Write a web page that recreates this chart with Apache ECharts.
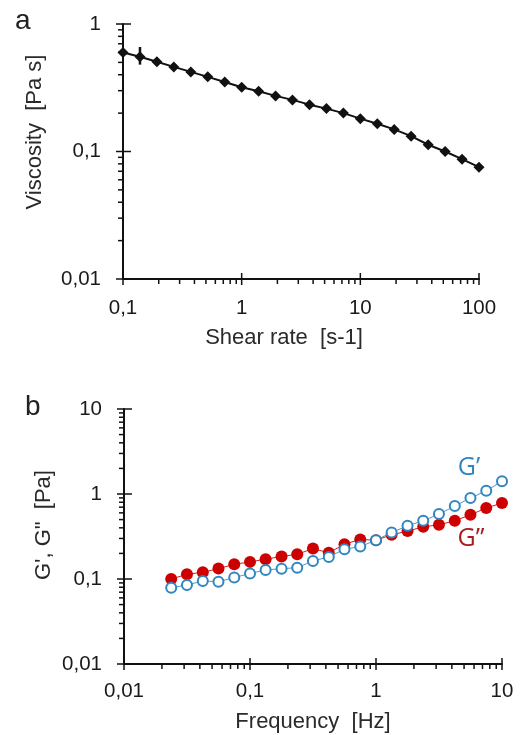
<!DOCTYPE html>
<html>
<head>
<meta charset="utf-8">
<script src="https://cdn.jsdelivr.net/npm/echarts@6/dist/echarts.min.js"></script>
<style>
html,body{margin:0;padding:0;background:#fff;}
#chart{width:524px;height:735px;}
</style>
</head>
<body>
<div id="chart"></div>
<script>
// ---- Panel a: viscosity vs shear rate ----
var shearRate = [0.1, 0.139, 0.193, 0.268, 0.373, 0.518, 0.720, 1, 1.39, 1.93, 2.68, 3.73, 5.18, 7.20, 10, 13.9, 19.3, 26.8, 37.3, 51.8, 72.0, 100];
var viscosity = [0.598, 0.553, 0.505, 0.461, 0.421, 0.385, 0.351, 0.319, 0.297, 0.273, 0.254, 0.233, 0.217, 0.200, 0.181, 0.165, 0.149, 0.132, 0.113, 0.100, 0.087, 0.0753];
var errorBarsA = [[0.139, 0.48, 0.66]]; // [x, low, high]

// ---- Panel b: G', G'' vs frequency ----
var frequency = [0.0237, 0.0316, 0.0422, 0.0562, 0.075, 0.1, 0.133, 0.178, 0.237, 0.316, 0.422, 0.562, 0.75, 1, 1.33, 1.78, 2.37, 3.16, 4.22, 5.62, 7.5, 10];
var gPrime = [0.079, 0.085, 0.0947, 0.093, 0.104, 0.116, 0.128, 0.132, 0.136, 0.163, 0.182, 0.224, 0.241, 0.286, 0.352, 0.423, 0.484, 0.580, 0.721, 0.897, 1.09, 1.41];
var gDoublePrime = [0.100, 0.1136, 0.120, 0.1325, 0.149, 0.159, 0.171, 0.184, 0.195, 0.228, 0.203, 0.257, 0.292, 0.286, 0.331, 0.366, 0.411, 0.434, 0.484, 0.570, 0.684, 0.783];

// ---- axis ranges / tick labels ----
var axA_x = [0.1, 100];
var axA_y = [0.01, 1];
var axB_x = [0.01, 10];
var axB_y = [0.01, 10];
var minorMantissa = [2, 3, 4, 5, 6, 7, 8, 9];
var decadesAx = [0.1, 1, 10];
var decadesAy = [0.01, 0.1];
var decadesBx = [0.01, 0.1, 1];
var decadesBy = [0.01, 0.1, 1];
var majorAx = [0.1, 1, 10, 100];
var majorAy = [0.01, 0.1, 1];
var majorBx = [0.01, 0.1, 1, 10];
var majorBy = [0.01, 0.1, 1, 10];

function minorList(decs) {
  var out = [];
  decs.forEach(function (d) { minorMantissa.forEach(function (m) { out.push(+(d * m).toPrecision(3)); }); });
  return out;
}

var font = '"Liberation Sans", Arial, sans-serif';
var tickFmt = function (v) { return String(+v.toPrecision(3)).replace('.', ','); };

// tick data: [x, y, kind] kind: 0=x minor,1=x major,2=y minor,3=y major
function tickData(minX, minY, xMinor, xMajor, yMinor, yMajor) {
  var d = [];
  xMinor.forEach(function (v) { d.push([v, minY, 0]); });
  xMajor.forEach(function (v) { d.push([v, minY, 1]); });
  yMinor.forEach(function (v) { d.push([minX, v, 2]); });
  yMajor.forEach(function (v) { d.push([minX, v, 3]); });
  return d;
}
function tickRender(params, api) {
  var p = api.coord([api.value(0), api.value(1)]);
  var k = api.value(2);
  var s = { stroke: '#111', lineWidth: 1.5 };
  var shape;
  if (k === 0) shape = { x1: p[0], y1: p[1], x2: p[0], y2: p[1] + 5 };
  else if (k === 1) shape = { x1: p[0], y1: p[1] - 6, x2: p[0], y2: p[1] + 6 };
  else if (k === 2) shape = { x1: p[0] - 5, y1: p[1], x2: p[0], y2: p[1] };
  else shape = { x1: p[0] - 7, y1: p[1], x2: p[0] + 8, y2: p[1] };
  return { type: 'line', shape: shape, style: s, silent: true };
}

function logAxis(range, gridIndex, labelMargin) {
  return {
    type: 'log', logBase: 10, gridIndex: gridIndex, min: range[0], max: range[1],
    axisLine: { show: true, lineStyle: { color: '#111', width: 2 } },
    axisTick: { show: false },
    splitLine: { show: false },
    minorTick: { show: false },
    axisLabel: { color: '#1a1a1a', fontSize: 20.5, fontFamily: font, margin: labelMargin, formatter: tickFmt, showMinLabel: true, showMaxLabel: true }
  };
}

var chart = echarts.init(document.getElementById('chart'), null, { renderer: 'canvas' });
var xA = logAxis(axA_x, 0, 19), yA = logAxis(axA_y, 0, 22);
var xB = logAxis(axB_x, 1, 17), yB = logAxis(axB_y, 1, 22);

var option = {
  backgroundColor: '#fff',
  animation: false,
  grid: [
    { left: 123, top: 24, width: 356, height: 255, outerBoundsMode: 'none', containLabel: false },
    { left: 124, top: 409, width: 378, height: 255, outerBoundsMode: 'none', containLabel: false }
  ],
  xAxis: [xA, xB],
  yAxis: [yA, yB],
  graphic: [
    { type: 'text', left: 15, top: 7, style: { text: 'a', font: '28px ' + font, fill: '#222' } },
    { type: 'text', left: 25, top: 393, style: { text: 'b', font: '28px ' + font, fill: '#222' } },
    { type: 'text', x: 284, y: 338, style: { text: 'Shear rate  [s-1]', font: '22px ' + font, fill: '#2a2a2a', align: 'center', verticalAlign: 'middle' } },
    { type: 'text', x: 35, y: 132, rotation: Math.PI / 2, style: { text: 'Viscosity  [Pa s]', font: '22px ' + font, fill: '#2a2a2a', align: 'center', verticalAlign: 'middle' } },
    { type: 'text', x: 313, y: 722, style: { text: 'Frequency  [Hz]', font: '22px ' + font, fill: '#2a2a2a', align: 'center', verticalAlign: 'middle' } },
    { type: 'text', x: 44, y: 525, rotation: Math.PI / 2, style: { text: 'G\', G"  [Pa]', font: '22px ' + font, fill: '#2a2a2a', align: 'center', verticalAlign: 'middle' } },
    { type: 'text', x: 469, y: 468, style: { text: 'G\u2019', font: '25px "Open Sans", sans-serif', fill: '#2f86c0', align: 'center', verticalAlign: 'middle' } },
    { type: 'text', x: 471, y: 539, style: { text: 'G\u201D', font: '25px "Open Sans", sans-serif', fill: '#a81c1c', align: 'center', verticalAlign: 'middle' } }
  ],
  series: [
    {
      name: 'Viscosity', type: 'line', xAxisIndex: 0, yAxisIndex: 0,
      data: shearRate.map(function (x, i) { return [x, viscosity[i]]; }),
      symbol: 'diamond', symbolSize: 11,
      lineStyle: { color: '#111', width: 2 },
      itemStyle: { color: '#111' }
    },
    {
      name: 'errA', type: 'custom', xAxisIndex: 0, yAxisIndex: 0,
      data: errorBarsA,
      renderItem: function (params, api) {
        var lo = api.coord([api.value(0), api.value(1)]);
        var hi = api.coord([api.value(0), api.value(2)]);
        return { type: 'line', shape: { x1: lo[0], y1: lo[1], x2: hi[0], y2: hi[1] }, style: { stroke: '#111', lineWidth: 2.5 } };
      },
      silent: true
    },
    {
      name: "G'", type: 'line', xAxisIndex: 1, yAxisIndex: 1,
      data: frequency.map(function (x, i) { return [x, gPrime[i]]; }),
      symbol: 'circle', symbolSize: 10,
      lineStyle: { color: '#4a9bd0', width: 1 },
      itemStyle: { color: '#fff', borderColor: '#2f86c0', borderWidth: 2 },
      z: 3
    },
    {
      name: 'G"', type: 'line', xAxisIndex: 1, yAxisIndex: 1,
      data: frequency.map(function (x, i) { return [x, gDoublePrime[i]]; }),
      symbol: 'circle', symbolSize: 12,
      lineStyle: { color: '#d02020', width: 1 },
      itemStyle: { color: '#cc0000' },
      z: 2
    },
    {
      name: 'ticksA', type: 'custom', xAxisIndex: 0, yAxisIndex: 0, silent: true,
      data: tickData(axA_x[0], axA_y[0], minorList(decadesAx), majorAx, minorList(decadesAy), majorAy),
      renderItem: tickRender
    },
    {
      name: 'ticksB', type: 'custom', xAxisIndex: 1, yAxisIndex: 1, silent: true,
      data: tickData(axB_x[0], axB_y[0], minorList(decadesBx), majorBx, minorList(decadesBy), majorBy),
      renderItem: tickRender
    }
  ]
};
chart.setOption(option);
</script>
</body>
</html>
